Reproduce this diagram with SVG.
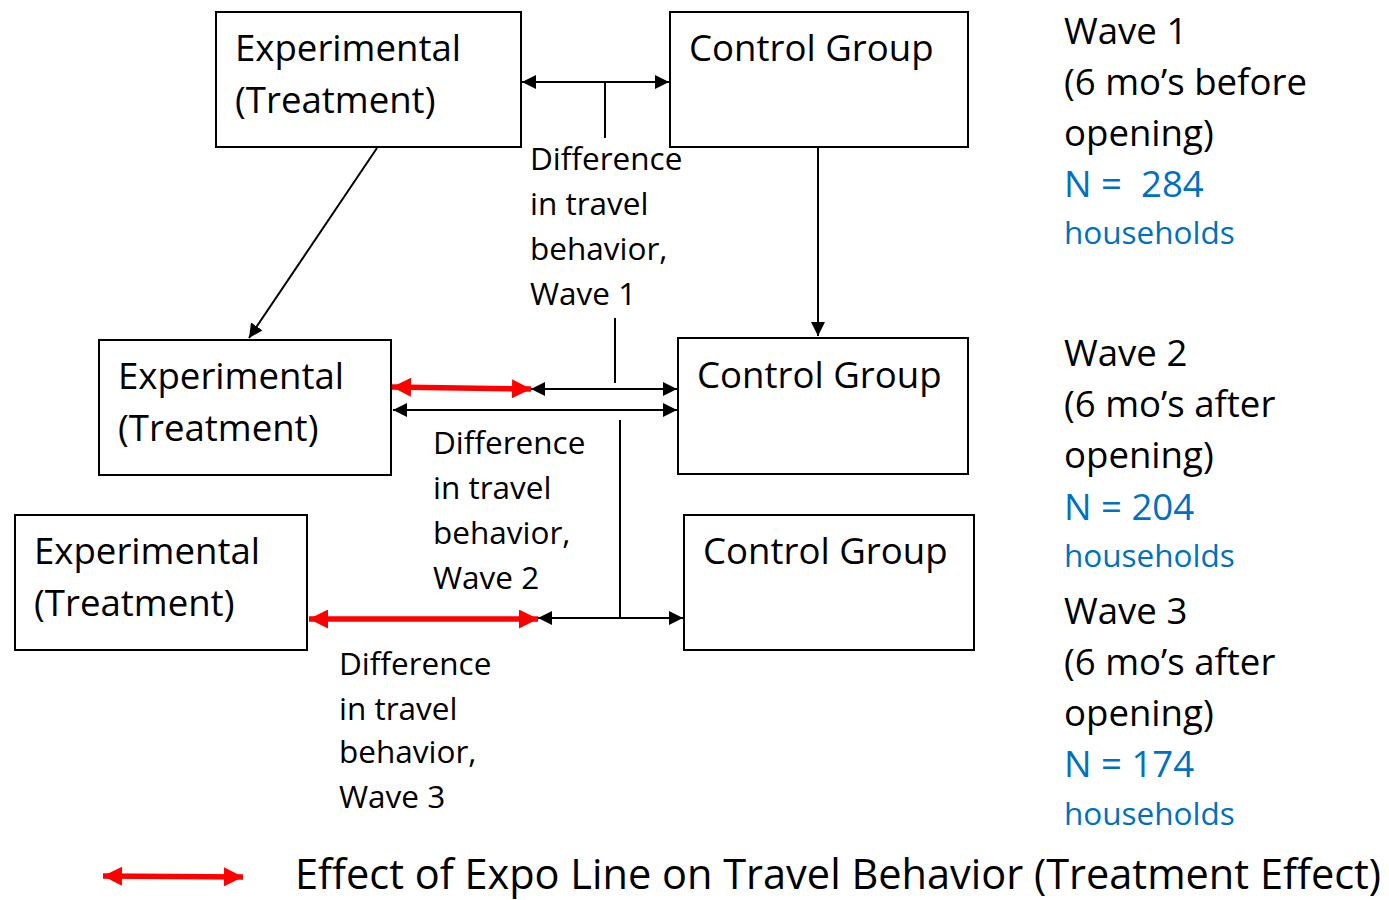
<svg xmlns="http://www.w3.org/2000/svg" width="1389" height="900" viewBox="0 0 1389 900">
<defs>
<style>
.box{fill:#fff;stroke:#000;stroke-width:2}
.t{font-family:"Open Sans","Noto Sans",sans-serif;fill:#000}
.big{font-size:36.6px}
.lab{font-size:31.5px}
.hh{font-size:31.5px}
.blue{fill:#0070C0}
.ln{stroke:#000;stroke-width:2;fill:none}
.red{stroke:#ff0000;stroke-width:5.5;fill:none}
</style>
<marker id="ah" viewBox="0 0 10 10" refX="10" refY="5" markerWidth="14" markerHeight="14" markerUnits="userSpaceOnUse" orient="auto-start-reverse"><path d="M0,0 L10,5 L0,10 Z" fill="#000"/></marker>
<marker id="rh" viewBox="0 0 10 10" refX="10" refY="5" markerWidth="22" markerHeight="19" markerUnits="userSpaceOnUse" orient="auto-start-reverse"><path d="M0,0 L10,5 L0,10 Z" fill="#ff0000"/></marker>
</defs>
<rect width="1389" height="900" fill="#fff"/>

<g id="connectors">
<line class="ln" x1="522" y1="82" x2="669" y2="82" marker-start="url(#ah)" marker-end="url(#ah)"/>
<line class="ln" x1="605" y1="82" x2="605" y2="138"/>
<line class="ln" x1="377" y1="148" x2="249" y2="338" marker-end="url(#ah)"/>
<line class="ln" x1="818" y1="148" x2="818" y2="336" marker-end="url(#ah)"/>
<line class="red" x1="392" y1="387" x2="531" y2="389" marker-start="url(#rh)" marker-end="url(#rh)"/>
<line class="ln" x1="531" y1="389" x2="677" y2="389" marker-start="url(#ah)" marker-end="url(#ah)"/>
<line class="ln" x1="615" y1="318" x2="615" y2="383"/>
<line class="ln" x1="393" y1="410" x2="677" y2="410" marker-start="url(#ah)" marker-end="url(#ah)"/>
<line class="ln" x1="620" y1="420" x2="620" y2="618"/>
<line class="red" x1="309" y1="619" x2="538" y2="619" marker-start="url(#rh)" marker-end="url(#rh)"/>
<line class="ln" x1="538" y1="618" x2="683" y2="618" marker-start="url(#ah)" marker-end="url(#ah)"/>
<line class="red" x1="103" y1="876" x2="243" y2="877" marker-start="url(#rh)" marker-end="url(#rh)"/>
</g>

<g id="exp1"><rect class="box" x="216" y="12" width="305" height="135"/>
<text class="t big" x="235" y="61">Experimental</text><text class="t big" x="235" y="113">(Treatment)</text></g>
<g id="ctrl1"><rect class="box" x="670" y="12" width="298" height="135"/>
<text class="t big" x="689" y="61">Control Group</text></g>
<g id="exp2"><rect class="box" x="99" y="340" width="292" height="135"/>
<text class="t big" x="118" y="389">Experimental</text><text class="t big" x="118" y="441">(Treatment)</text></g>
<g id="ctrl2"><rect class="box" x="678" y="338" width="290" height="136"/>
<text class="t big" x="697" y="388">Control Group</text></g>
<g id="exp3"><rect class="box" x="15" y="515" width="292" height="135"/>
<text class="t big" x="34" y="564">Experimental</text><text class="t big" x="34" y="616">(Treatment)</text></g>
<g id="ctrl3"><rect class="box" x="684" y="515" width="290" height="135"/>
<text class="t big" x="703" y="564">Control Group</text></g>

<g id="diff1" class="t lab"><text x="530" y="170">Difference</text><text x="530" y="215">in travel</text><text x="530" y="260">behavior,</text><text x="530" y="305">Wave 1</text></g>
<g id="diff2" class="t lab"><text x="433" y="454">Difference</text><text x="433" y="499">in travel</text><text x="433" y="544">behavior,</text><text x="433" y="589">Wave 2</text></g>
<g id="diff3" class="t lab"><text x="339" y="675">Difference</text><text x="339" y="720">in travel</text><text x="339" y="763">behavior,</text><text x="339" y="808">Wave 3</text></g>

<g id="wave1" class="t big"><text x="1064" y="44">Wave 1</text><text x="1064" y="95">(6 mo’s before</text><text x="1064" y="146">opening)</text>
<text x="1064" y="197" class="blue">N =&#160; 284</text><text x="1064" y="244" class="blue hh">households</text></g>
<g id="wave2" class="t big"><text x="1064" y="366">Wave 2</text><text x="1064" y="417">(6 mo’s after</text><text x="1064" y="468">opening)</text>
<text x="1064" y="520" class="blue">N = 204</text><text x="1064" y="567" class="blue hh">households</text></g>
<g id="wave3" class="t big"><text x="1064" y="624">Wave 3</text><text x="1064" y="675">(6 mo’s after</text><text x="1064" y="726">opening)</text>
<text x="1064" y="777" class="blue">N = 174</text><text x="1064" y="825" class="blue hh">households</text></g>

<g id="legend"><text class="t" x="295" y="889" style="font-size:41.5px">Effect of Expo Line on Travel Behavior (Treatment Effect)</text></g>
</svg>
